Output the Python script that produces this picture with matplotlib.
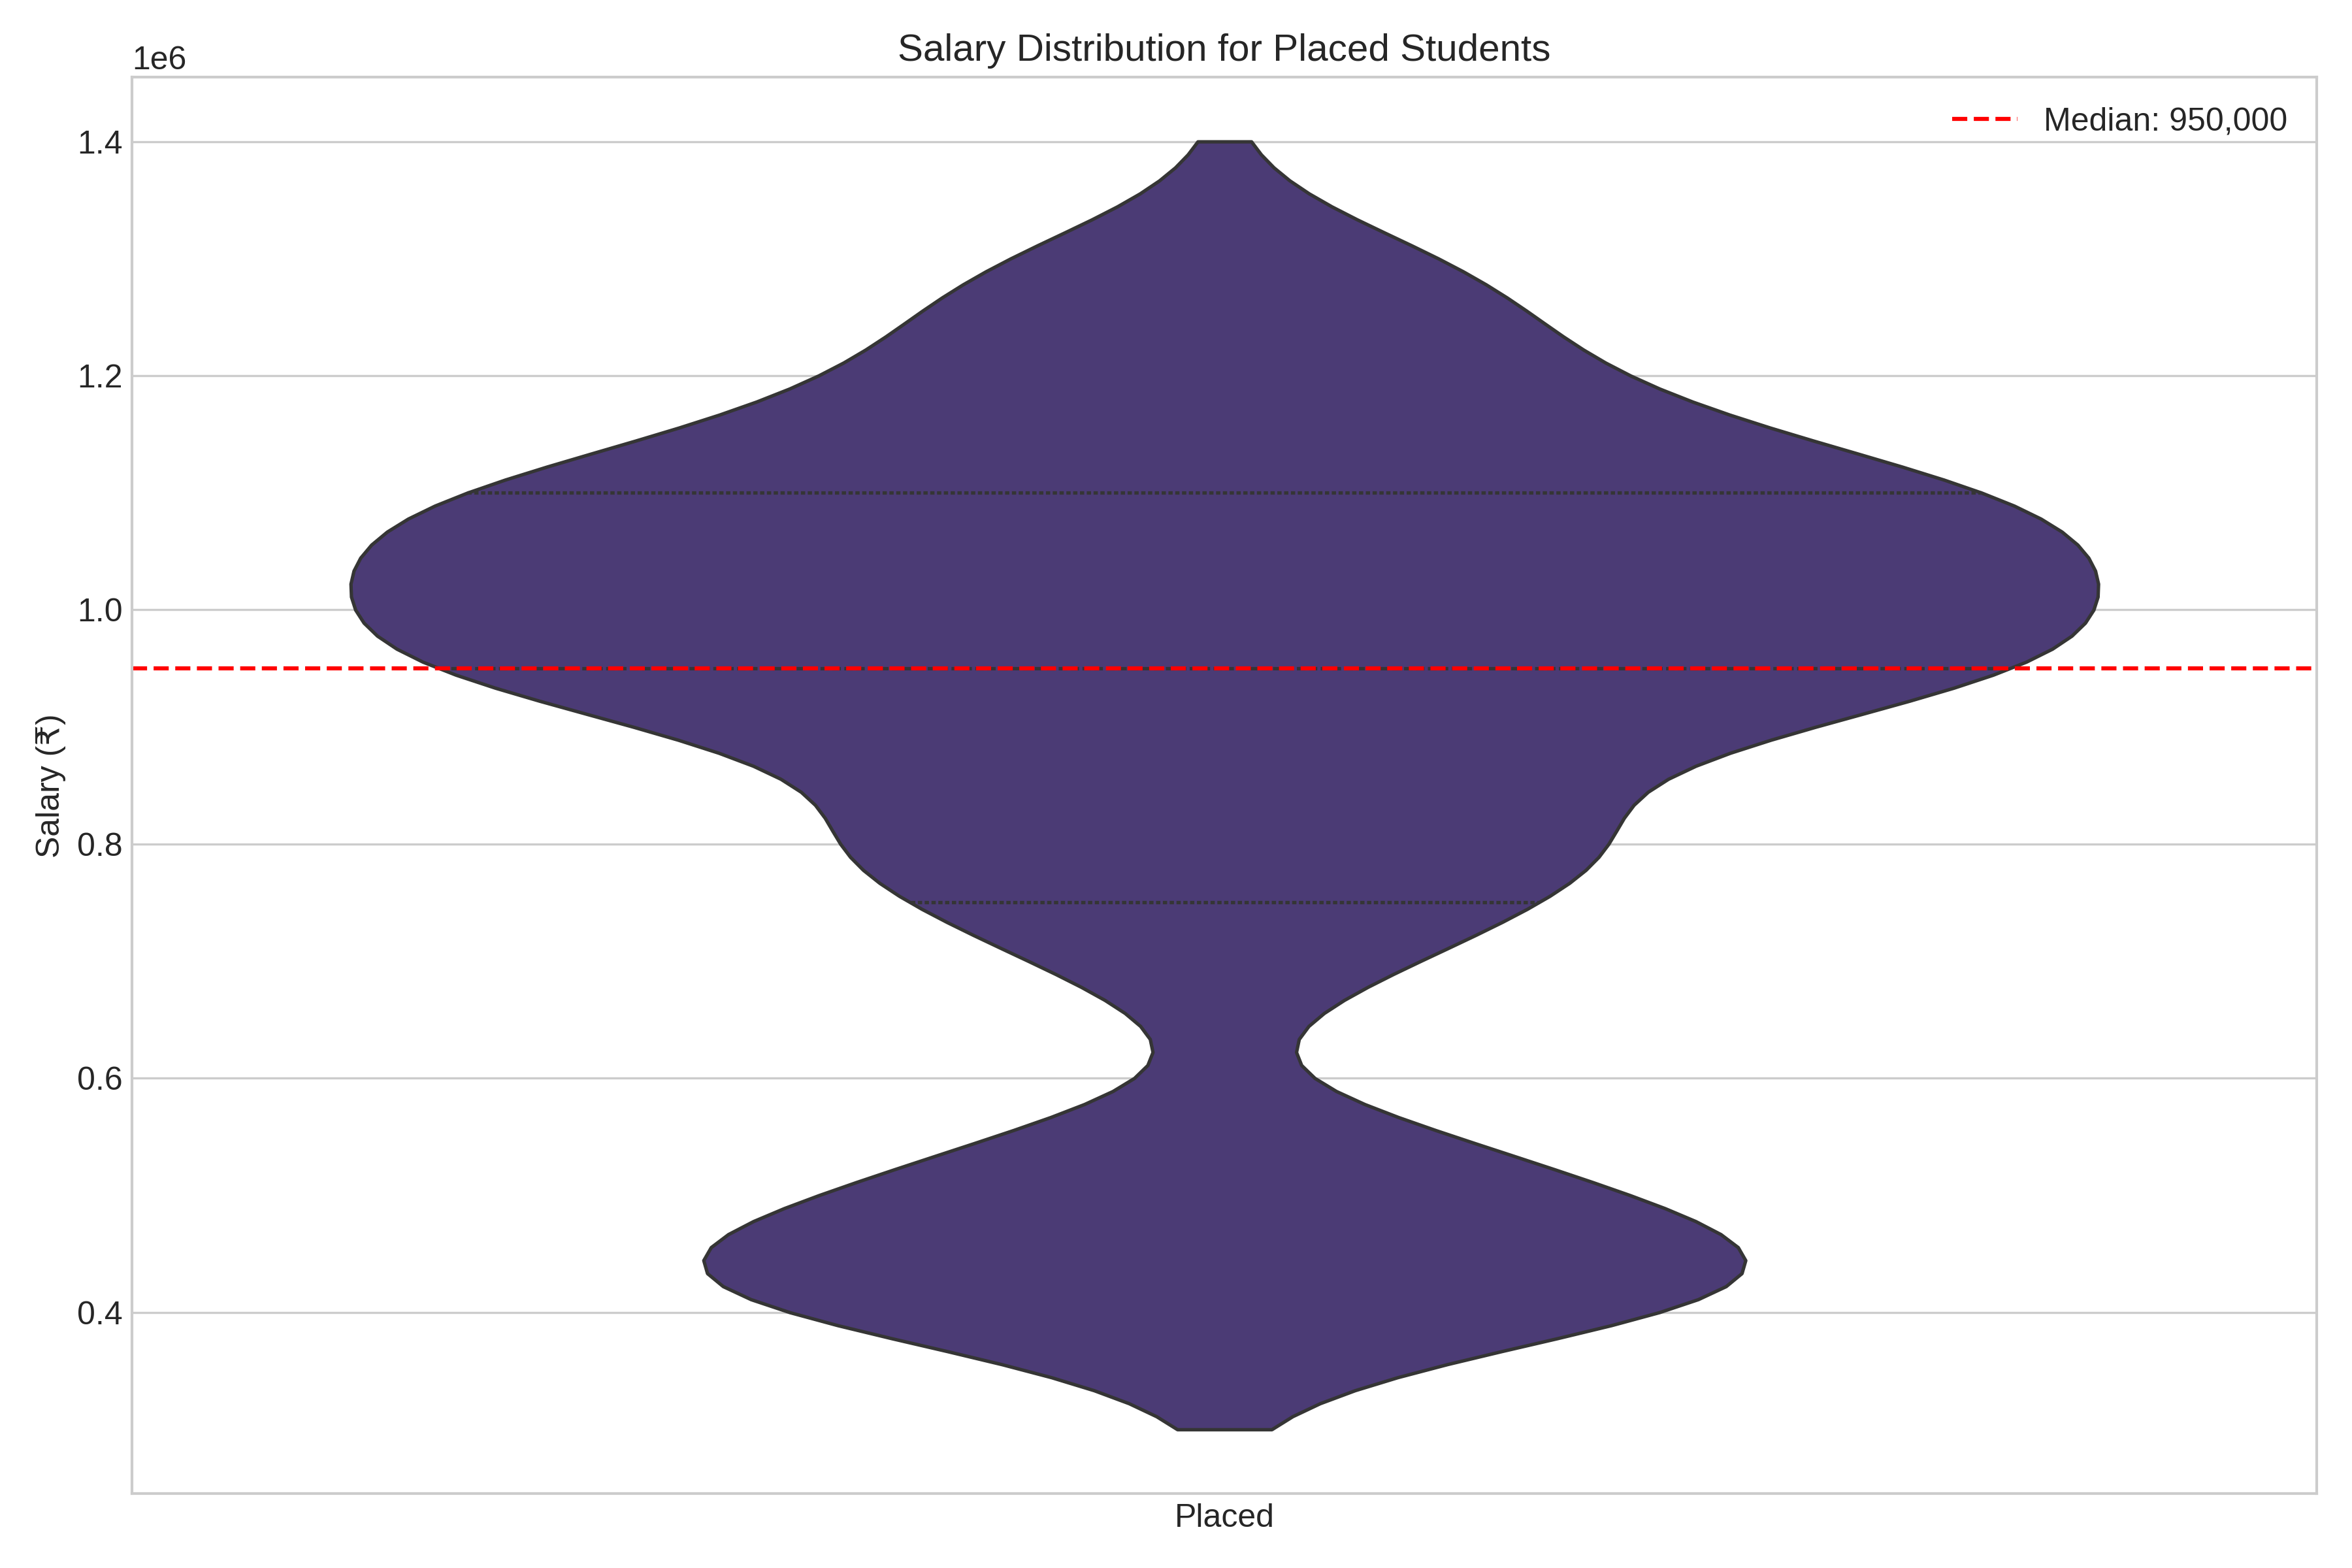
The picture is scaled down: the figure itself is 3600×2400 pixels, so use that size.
import numpy as np
import pandas as pd
import matplotlib
matplotlib.use('Agg')
import matplotlib.pyplot as plt
import seaborn as sns

# salary levels (INR) and how many placed students got each one
salary_levels = [300000, 350000, 400000, 450000, 500000, 550000, 600000,
                 650000, 700000, 750000, 800000, 850000, 900000, 950000,
                 1000000, 1050000, 1100000, 1150000, 1200000, 1250000,
                 1300000, 1350000, 1400000]
student_counts = [1, 8, 35, 40, 27, 16, 1,
                  4, 13, 22, 28, 24, 38, 57,
                  59, 59, 54, 36, 25, 21,
                  16, 4, 1]
status_label = 'Placed'
median_salary = 950000

plt.style.use('seaborn-v0_8-whitegrid')
plt.rcParams['font.family'] = ['Liberation Sans', 'DejaVu Sans']
plt.rcParams['font.size'] = 12

df = pd.DataFrame({
    'status': status_label,
    'salary': np.repeat(salary_levels, student_counts),
})

fig, ax = plt.subplots(figsize=(12, 8))

violin_color = sns.color_palette('viridis')[0]
sns.violinplot(data=df, x='status', y='salary', color=violin_color,
               inner='quart', cut=0, bw_method=0.15, ax=ax)

ax.axhline(median_salary, color='red', linestyle='--', linewidth=1.5,
           label=f'Median: {median_salary:,}')

ax.set_title('Salary Distribution for Placed Students', fontsize=14)
ax.set_xlabel('')
ax.set_ylabel('Salary (₹)')
ax.legend(loc='upper right')

plt.tight_layout()
plt.savefig('out.png', dpi=300)
